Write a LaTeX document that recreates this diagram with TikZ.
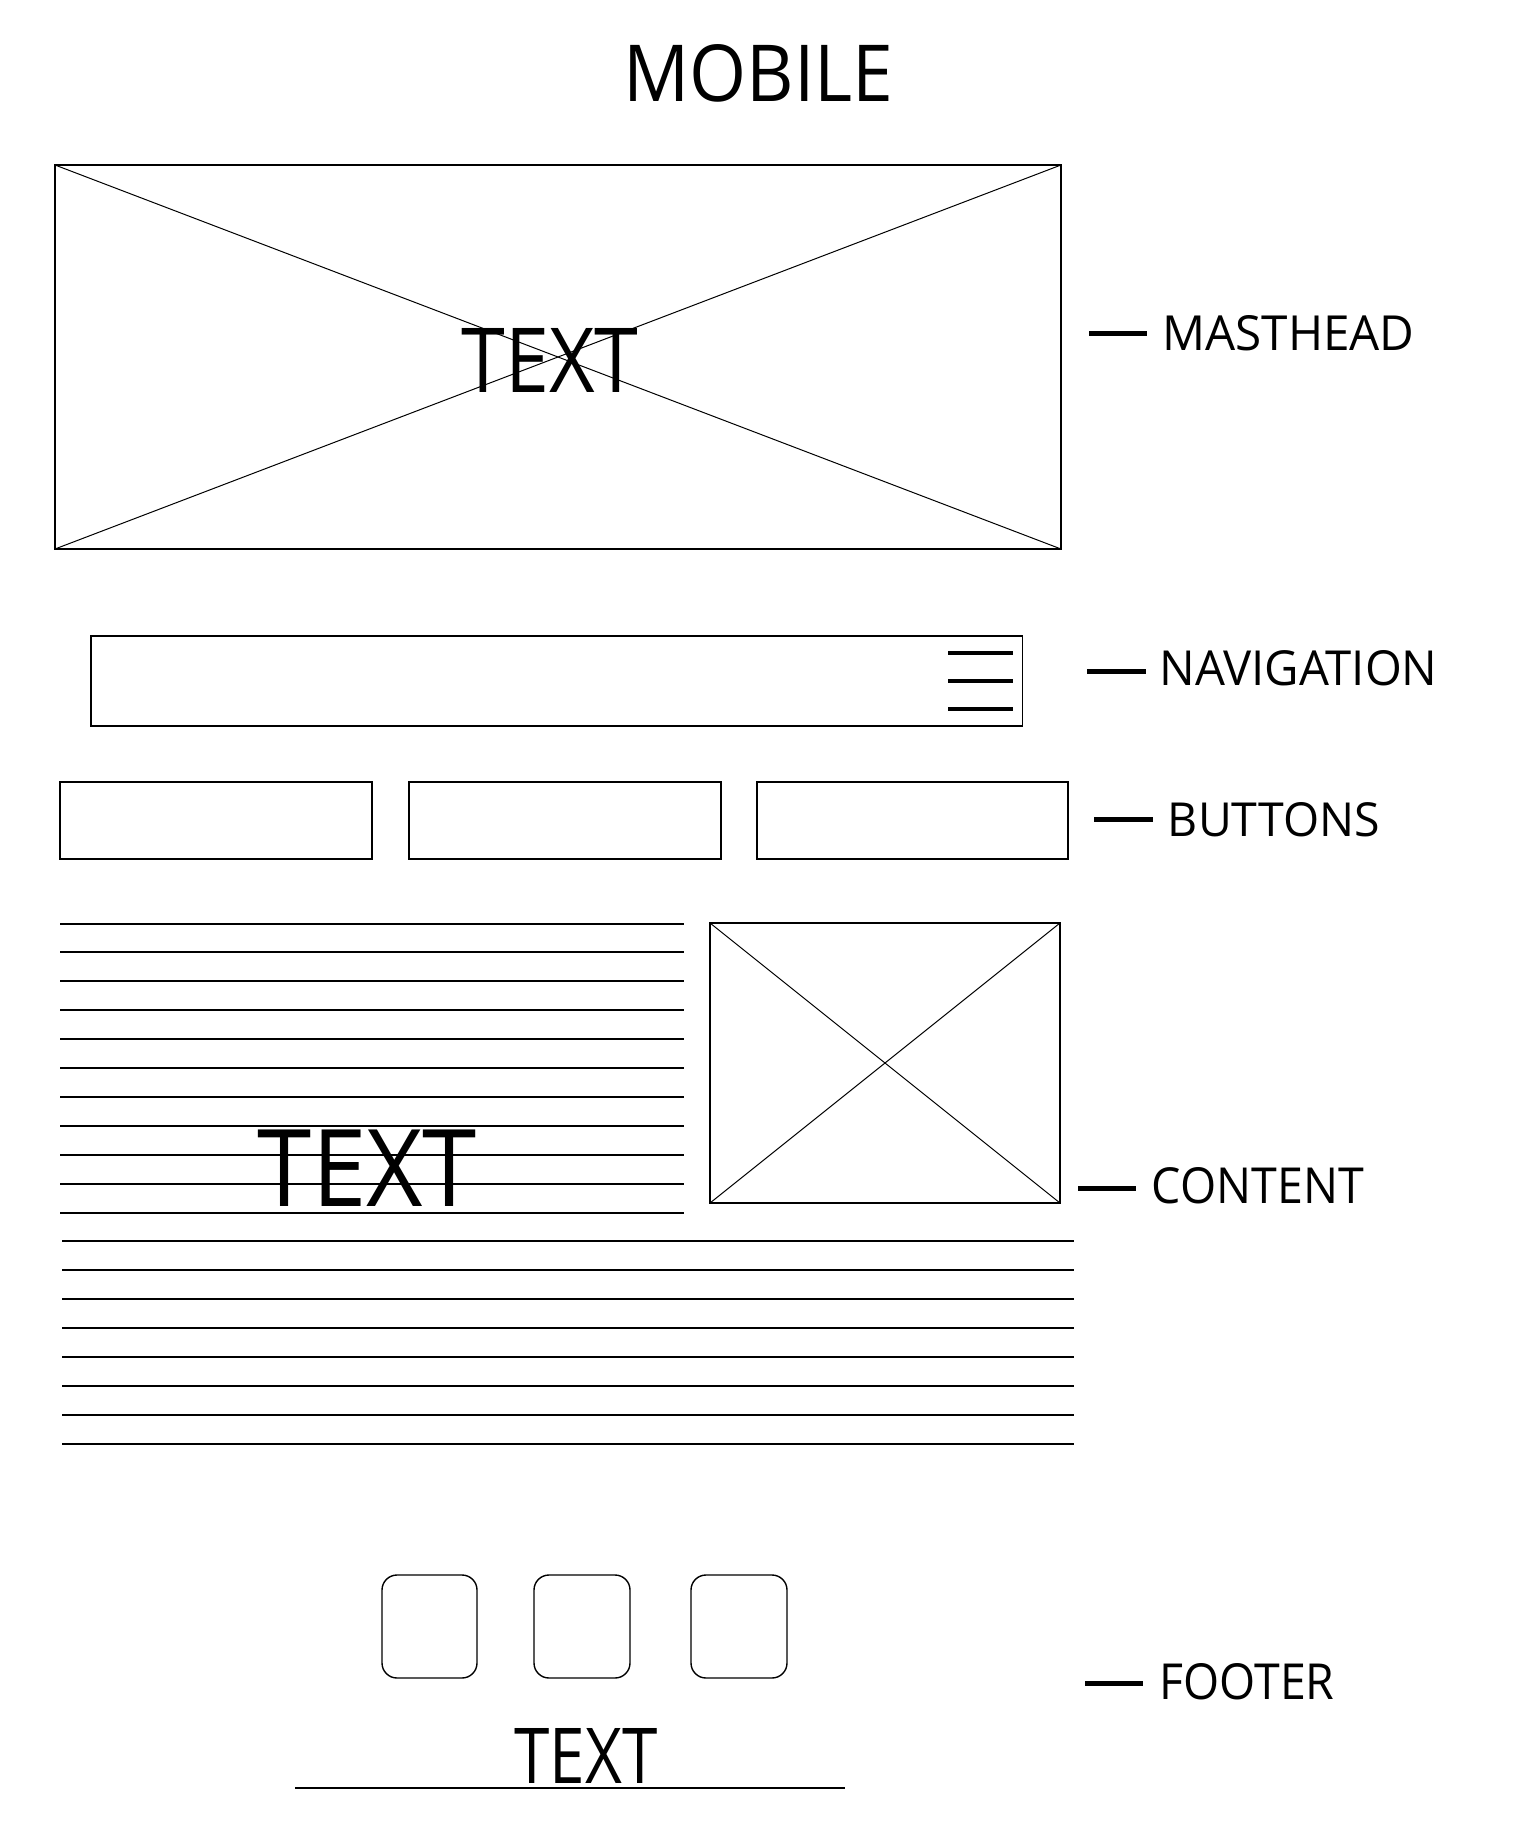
\documentclass[tikz,border=0pt]{standalone}
\usepackage{fontspec}
\setmainfont{Open Sans}
\usepackage{graphicx}
\tikzset{
  frame/.style={draw=black, line width=1.5pt, inner sep=0pt, outer sep=0pt},
  cross/.style={draw=black, line width=1pt},
  txtline/.style={draw=black, line width=2pt},
  tickmark/.style={draw=black, line width=5pt},
  burger/.style={draw=black, line width=4pt},
  lbl/.style={inner sep=0pt, outer sep=0pt, anchor=center},
  iconbox/.style={draw=black, line width=1.4pt, rounded corners=15pt, inner sep=0pt, outer sep=0pt},
}
\newcommand{\fitbox}[3]{\resizebox{#1pt}{#2pt}{#3}}
\begin{document}
\begin{tikzpicture}[x=1pt,y=-1pt]
\useasboundingbox (0,0) rectangle (1520,1828);
\fill[white] (0,0) rectangle (1520,1828);

% title
\node[lbl] (title) at (758.5,73.4) {\fitbox{270}{57}{MOBILE}};

% masthead
\node[frame, minimum width=1006pt, minimum height=384pt] (mast) at (558,357) {};
\draw[cross] (mast.north west) -- (mast.south east);
\draw[cross] (mast.south west) -- (mast.north east);
\node[lbl] (masttext) at (550,360) {\fitbox{177}{64}{TEXT}};

% navigation
\node[frame, minimum width=931.5pt, minimum height=90pt] (nav) at (556.75,681) {};
\coordinate (b1a) at (948,652.7); \coordinate (b1b) at (1013,652.7);
\coordinate (b2a) at (948,681);   \coordinate (b2b) at (1013,681);
\coordinate (b3a) at (948,709);   \coordinate (b3b) at (1013,709);
\draw[burger] (b1a) -- (b1b);
\draw[burger] (b2a) -- (b2b);
\draw[burger] (b3a) -- (b3b);

% buttons
\node[frame, minimum width=312pt, minimum height=77pt] (btn1) at (216,820.5) {};
\node[frame, minimum width=312pt, minimum height=77pt] (btn2) at (565,820.5) {};
\node[frame, minimum width=311pt, minimum height=77pt] (btn3) at (912.5,820.5) {};

% content
\foreach \i in {0,...,10} {
  \draw[txtline] (60,923.5+28.9*\i) -- (684,923.5+28.9*\i);
}
\foreach \i in {11,...,18} {
  \draw[txtline] (62,923.5+28.9*\i) -- (1074,923.5+28.9*\i);
}
\node[frame, minimum width=350pt, minimum height=280pt] (img) at (885,1063) {};
\draw[cross] (img.north west) -- (img.south east);
\draw[cross] (img.south west) -- (img.north east);
\node[lbl] (contenttext) at (367.5,1168) {\fitbox{219}{76.5}{TEXT}};

% footer
\node[iconbox, minimum width=95pt, minimum height=103pt] (ic1) at (429.5,1626.5) {};
\node[iconbox, minimum width=96pt, minimum height=103pt] (ic2) at (582,1626.5) {};
\node[iconbox, minimum width=96pt, minimum height=103pt] (ic3) at (739,1626.5) {};
\node[lbl] (foottext) at (586,1755.5) {\fitbox{143}{55}{TEXT}};
\coordinate (fl1) at (295,1788); \coordinate (fl2) at (845,1788);
\draw[txtline] (fl1) -- (fl2);

% side labels
\node[lbl] (lmast) at (1288.5,333.5) {\fitbox{252}{35}{MASTHEAD}};
\node[lbl] (lnav) at (1298.5,668.5) {\fitbox{278}{35}{NAVIGATION}};
\node[lbl] (lbtn) at (1274,819.7) {\fitbox{212}{34}{BUTTONS}};
\node[lbl] (lcont) at (1258,1186) {\fitbox{212}{36}{CONTENT}};
\node[lbl] (lfoot) at (1247,1682) {\fitbox{175}{36}{FOOTER}};

\coordinate (d1a) at (1089,333); \coordinate (d1b) at (1147,333);
\coordinate (d2a) at (1087,671); \coordinate (d2b) at (1146,671);
\coordinate (d3a) at (1094,819); \coordinate (d3b) at (1153,819);
\coordinate (d4a) at (1078,1188); \coordinate (d4b) at (1136,1188);
\coordinate (d5a) at (1085,1683); \coordinate (d5b) at (1143,1683);
\draw[tickmark] (d1a) -- (d1b);
\draw[tickmark] (d2a) -- (d2b);
\draw[tickmark] (d3a) -- (d3b);
\draw[tickmark] (d4a) -- (d4b);
\draw[tickmark] (d5a) -- (d5b);
\end{tikzpicture}
\end{document}
